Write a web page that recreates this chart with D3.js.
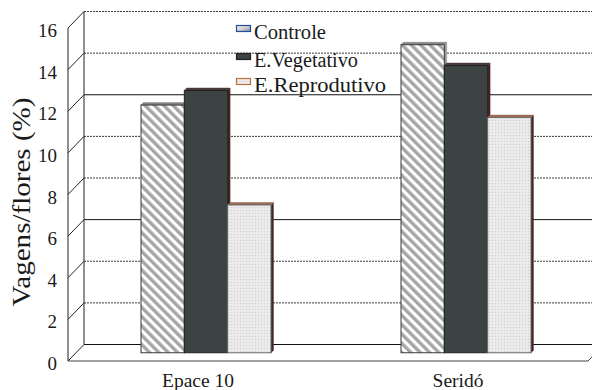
<!DOCTYPE html>
<html>
<head>
<meta charset="utf-8">
<script src="https://cdn.jsdelivr.net/npm/d3@7/dist/d3.min.js"></script>
<style>
  html, body { margin: 0; padding: 0; background: #fff; }
  svg { display: block; }
</style>
</head>
<body>
<script>
// Pod set per flower (%) for two cultivars under three water regimes
const categories = ["Epace 10", "Seridó"];
const seriesNames = ["Controle", "E.Vegetativo", "E.Reprodutivo"];
const controle = [11.9, 14.8];
const vegetativo = [12.6, 13.8];
const reprodutivo = [7.1, 11.3];
const yTicks = [0, 2, 4, 6, 8, 10, 12, 14, 16];
const yTitle = "Vagens/flores (%)";

const W = 592, H = 390;
const SERIF = '"Liberation Serif"';
const svg = d3.select("body").append("svg").attr("width", W).attr("height", H);

// pseudo-3D box: front plane + depth offset toward the back wall
const frontLeft = 68, plotW = 520, depthX = 16, depthY = 16.5;
const y = d3.scaleLinear().domain([0, 16]).range([361, 28]);
const x0 = d3.scaleBand().domain(categories).range([0, plotW]);
const x1 = d3.scaleBand().domain(seriesNames)
  .range([x0.bandwidth() * 0.25, x0.bandwidth() * 0.75]);
const proj = (xp, v, z) => [frontLeft + xp + depthX * z, y(v) - depthY * z];

const defs = svg.append("defs");
// diagonal hatch for Controle
const hp = 6.6;
const hatch = defs.append("pattern").attr("id", "hatch")
  .attr("patternUnits", "userSpaceOnUse").attr("width", hp).attr("height", hp)
  .attr("patternTransform", "rotate(-45)");
hatch.append("rect").attr("width", hp).attr("height", hp).attr("fill", "#ffffff");
hatch.append("rect").attr("width", 3.4).attr("height", hp).attr("fill", "#a6a6a6");
// fine dotted fill for E.Reprodutivo
const dots = defs.append("pattern").attr("id", "dots")
  .attr("patternUnits", "userSpaceOnUse").attr("width", 3).attr("height", 3);
dots.append("rect").attr("width", 3).attr("height", 3).attr("fill", "#e9e9e9");
dots.append("rect").attr("width", 1).attr("height", 1).attr("fill", "#d2d2d2");
dots.append("rect").attr("x", 1.5).attr("y", 1.5).attr("width", 1).attr("height", 1).attr("fill", "#f6f6f6");
// legend swatch gradient for Controle
const lg = defs.append("linearGradient").attr("id", "swatchC")
  .attr("x1", "0").attr("y1", "0").attr("x2", "1").attr("y2", "1");
lg.append("stop").attr("offset", "0").attr("stop-color", "#f4f4f4");
lg.append("stop").attr("offset", "0.5").attr("stop-color", "#cfcfcf");
lg.append("stop").attr("offset", "1").attr("stop-color", "#8a8a8a");

const style = {
  "Controle":      { fill: "url(#hatch)", stroke: "#3a3a3a", top: "#858585", side: "#9a9a9a" },
  "E.Vegetativo":  { fill: "#3b4442", stroke: "#1e2220", top: "#4b3a3a", side: "#4a2222" },
  "E.Reprodutivo": { fill: "url(#dots)", stroke: "#6a6a6a", top: "#9a6a55", side: "#4a2424" }
};

const line = (a, b, color, width, dash) => svg.append("line")
  .attr("x1", a[0]).attr("y1", a[1]).attr("x2", b[0]).attr("y2", b[1])
  .attr("stroke", color).attr("stroke-width", width || 1)
  .attr("stroke-dasharray", dash || null);

// back wall gridlines and side wall connectors
const dottedTicks = [2, 4, 8, 10, 14, 16];
yTicks.forEach(v => {
  const dotted = dottedTicks.includes(v);
  line(proj(0, v, 1), proj(plotW, v, 1), dotted ? "#3a3a3a" : "#111", 1, dotted ? "2 1" : null);
  line(proj(0, v, 0), proj(0, v, 1), "#222", 1);
});
// wall edges and floor
line(proj(0, 0, 1), proj(0, 16, 1), "#222", 1);
line(proj(0, 0, 0), proj(0, 16, 0), "#222", 1);
line(proj(0, 0, 0), proj(plotW, 0, 0), "#444", 1);
line(proj(plotW, 0, 0), proj(plotW, 0, 1), "#444", 1);

// y tick labels on the front edge
svg.append("g").selectAll("text").data(yTicks).join("text")
  .attr("x", 57).attr("y", d => y(d) + 9)
  .attr("text-anchor", "end").attr("font-size", 19).attr("fill", "#1a1a1a")
  .style("font-family", SERIF)
  .text(d => d);

// y axis title
svg.append("text")
  .attr("transform", "translate(30,202) rotate(-90)")
  .attr("text-anchor", "middle").attr("font-size", 25).attr("fill", "#1a1a1a")
  .style("font-family", SERIF)
  .attr("textLength", 209).attr("lengthAdjust", "spacingAndGlyphs")
  .text(yTitle);

// category labels at the front floor edge
svg.append("g").selectAll("text").data(categories).join("text")
  .attr("x", d => frontLeft + x0(d) + x0.bandwidth() / 2)
  .attr("y", 387).attr("text-anchor", "middle").attr("font-size", 19.5).attr("fill", "#1a1a1a")
  .style("font-family", SERIF)
  .text(d => d);

// bars, front face at mid depth with a shallow top and right face
const zF = 0.5, zB = 0.65;
const valuesBySeries = { "Controle": controle, "E.Vegetativo": vegetativo, "E.Reprodutivo": reprodutivo };
const barData = [];
categories.forEach((c, i) => seriesNames.forEach(s =>
  barData.push({ c, s, v: valuesBySeries[s][i] })));

const bars = svg.append("g").selectAll("g").data(barData).join("g");
bars.each(function(d) {
  const g = d3.select(this);
  const xl = x0(d.c) + x1(d.s), xr = xl + x1.bandwidth();
  const st = style[d.s];
  const fTL = proj(xl, d.v, zF), fTR = proj(xr, d.v, zF), fBR = proj(xr, 0, zF);
  const bTL = proj(xl, d.v, zB), bTR = proj(xr, d.v, zB), bBR = proj(xr, 0, zB);
  g.append("polygon").attr("points", [fTR, bTR, bBR, fBR].join(" "))
    .attr("fill", st.side).attr("stroke", st.side).attr("stroke-width", 0.5);
  g.append("polygon").attr("points", [fTL, bTL, bTR, fTR].join(" "))
    .attr("fill", st.top).attr("stroke", st.top).attr("stroke-width", 0.5);
  g.append("rect")
    .attr("x", fTL[0]).attr("y", fTL[1])
    .attr("width", fTR[0] - fTL[0]).attr("height", fBR[1] - fTR[1])
    .attr("fill", st.fill).attr("stroke", st.stroke).attr("stroke-width", 1);
});

// legend
const legend = [
  { name: "Controle", y: 39, len: 72, fill: "url(#swatchC)", stroke: "#1f4fa0" },
  { name: "E.Vegetativo", y: 67, len: 104, fill: "#3b4442", stroke: "#1e2220" },
  { name: "E.Reprodutivo", y: 92, len: 132, fill: "url(#dots)", stroke: "#c0703a" }
];
const lgG = svg.append("g").selectAll("g").data(legend).join("g");
lgG.append("rect")
  .attr("x", 236.5).attr("y", d => d.y - 13.5).attr("width", 14).attr("height", 6)
  .attr("fill", d => d.fill).attr("stroke", d => d.stroke).attr("stroke-width", 1.2);
lgG.append("text")
  .attr("x", 254).attr("y", d => d.y).attr("font-size", 20.5).attr("fill", "#1a1a1a")
  .style("font-family", SERIF)
  .attr("textLength", d => d.len).attr("lengthAdjust", "spacingAndGlyphs")
  .text(d => d.name);
</script>
</body>
</html>
